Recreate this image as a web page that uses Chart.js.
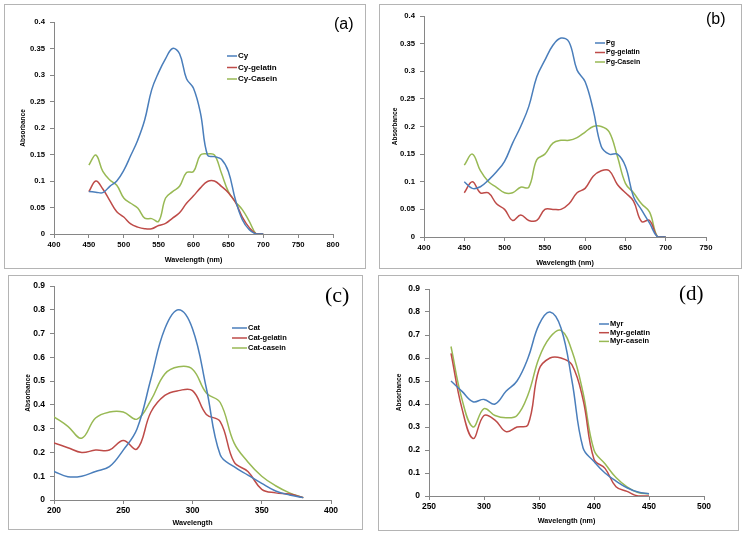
<!DOCTYPE html>
<html>
<head>
<meta charset="utf-8">
<script src="https://cdn.jsdelivr.net/npm/chart.js@4.4.1/dist/chart.umd.min.js"></script>
<style>
  body { margin: 0; background: #fff; width: 743px; height: 536px; position: relative; overflow: hidden; }
  .box { position: absolute; border: 1px solid #b4b4b4; box-sizing: border-box; }
  canvas { position: absolute; }
  .tag { position: absolute; color: #000; line-height: 1; }
</style>
</head>
<body>

<div class="box" style="left:4px;top:4px;width:362px;height:265px"></div>
<div class="box" style="left:379px;top:4px;width:363px;height:265px"></div>
<div class="box" style="left:8px;top:275px;width:355px;height:255px"></div>
<div class="box" style="left:378px;top:275px;width:361px;height:256px"></div>

<canvas id="chartA"></canvas>
<canvas id="chartB"></canvas>
<canvas id="chartC"></canvas>
<canvas id="chartD"></canvas>

<div class="tag" style="left:334px;top:15px;font:16px 'Liberation Sans',Arial,sans-serif">(a)</div>
<div class="tag" style="left:706px;top:10px;font:16px 'Liberation Sans',Arial,sans-serif">(b)</div>
<div class="tag" style="left:325px;top:282px;font:22px 'Liberation Serif','Times New Roman',serif">(c)</div>
<div class="tag" style="left:679px;top:281px;font:21px 'Liberation Serif','Times New Roman',serif">(d)</div>

<script>
// (a) Cy
const waveA = [450, 460, 470, 480, 490, 500, 510, 520, 530, 540, 550, 560, 570, 580, 590, 600, 610, 620, 630, 640, 650, 660, 670, 680, 690, 700];
const cy        = [0.08, 0.079, 0.078, 0.09, 0.1, 0.12, 0.148, 0.177, 0.215, 0.272, 0.305, 0.331, 0.35, 0.34, 0.293, 0.275, 0.228, 0.149, 0.146, 0.141, 0.118, 0.065, 0.027, 0.008, 0, 0];
const cyGelatin = [0.08, 0.1, 0.085, 0.063, 0.042, 0.032, 0.019, 0.013, 0.01, 0.01, 0.016, 0.02, 0.03, 0.04, 0.058, 0.072, 0.087, 0.099, 0.1, 0.09, 0.078, 0.06, 0.032, 0.012, 0, 0];
const cyCasein  = [0.13, 0.149, 0.118, 0.102, 0.092, 0.068, 0.058, 0.049, 0.03, 0.029, 0.024, 0.068, 0.08, 0.09, 0.116, 0.118, 0.149, 0.151, 0.149, 0.115, 0.08, 0.061, 0.046, 0.024, 0, 0];

// (b) Pg
const waveB = [450, 460, 470, 480, 490, 500, 510, 520, 530, 540, 550, 560, 570, 580, 590, 600, 610, 620, 630, 640, 650, 660, 670, 680, 690, 700];
const pg        = [0.1, 0.088, 0.091, 0.103, 0.118, 0.137, 0.17, 0.2, 0.236, 0.29, 0.32, 0.347, 0.36, 0.353, 0.302, 0.281, 0.23, 0.164, 0.15, 0.15, 0.128, 0.073, 0.049, 0.025, 0, 0];
const pgGelatin = [0.08, 0.1, 0.08, 0.08, 0.06, 0.05, 0.03, 0.04, 0.03, 0.03, 0.05, 0.05, 0.05, 0.06, 0.08, 0.088, 0.11, 0.12, 0.12, 0.095, 0.08, 0.065, 0.028, 0.03, 0, 0];
const pgCasein  = [0.13, 0.15, 0.12, 0.1, 0.09, 0.08, 0.08, 0.09, 0.09, 0.14, 0.15, 0.17, 0.175, 0.175, 0.18, 0.19, 0.2, 0.2, 0.19, 0.146, 0.097, 0.08, 0.06, 0.045, 0, 0];

// (c) Cat
const waveC = [200, 210, 220, 230, 240, 250, 260, 270, 280, 290, 300, 310, 320, 330, 340, 350, 360, 370, 380];
const cat        = [0.12, 0.098, 0.1, 0.12, 0.14, 0.21, 0.3, 0.51, 0.72, 0.8, 0.72, 0.47, 0.19, 0.14, 0.105, 0.07, 0.038, 0.021, 0.01];
const catGelatin = [0.24, 0.22, 0.2, 0.21, 0.21, 0.25, 0.215, 0.37, 0.44, 0.46, 0.46, 0.36, 0.33, 0.16, 0.12, 0.045, 0.03, 0.025, 0.01];
const catCasein  = [0.35, 0.31, 0.26, 0.345, 0.37, 0.37, 0.34, 0.42, 0.53, 0.56, 0.55, 0.45, 0.41, 0.24, 0.16, 0.1, 0.06, 0.03, 0.01];

// (d) Myr
const waveD = [270, 280, 290, 300, 310, 320, 330, 340, 350, 360, 370, 380, 390, 400, 410, 420, 430, 440, 450];
const myr        = [0.5, 0.455, 0.41, 0.42, 0.4, 0.455, 0.5, 0.6, 0.745, 0.8, 0.73, 0.5, 0.21, 0.15, 0.1, 0.065, 0.036, 0.017, 0.01];
const myrGelatin = [0.62, 0.38, 0.25, 0.35, 0.33, 0.28, 0.3, 0.31, 0.55, 0.6, 0.6, 0.57, 0.42, 0.16, 0.12, 0.04, 0.02, 0, 0];
const myrCasein  = [0.65, 0.42, 0.3, 0.38, 0.35, 0.34, 0.35, 0.44, 0.6, 0.69, 0.72, 0.63, 0.45, 0.2, 0.14, 0.08, 0.04, 0.015, 0.01];

const BLUE = "#4a7ebb";
const RED = "#be4b48";
const GREEN = "#98b954";
const AXIS = "#868686";
const FONT = "'Liberation Sans', Arial, sans-serif";

function pts(xs, ys) {
    return xs.map((x, i) => ({ x: x, y: ys[i] }));
}

// draws the little legend inside the plot
const legendPlugin = {
    id: "innerLegend",
    afterDraw(chart, args, opts) {
        const ctx = chart.ctx;
        ctx.save();
        ctx.font = "bold " + opts.size + "px " + FONT;
        ctx.textBaseline = "middle";
        ctx.fillStyle = "#000";
        chart.data.datasets.forEach((ds, i) => {
            const y = opts.y + i * opts.gap;
            ctx.strokeStyle = ds.borderColor;
            ctx.lineWidth = 1.5;
            ctx.beginPath();
            ctx.moveTo(opts.x, y);
            ctx.lineTo(opts.x + opts.len, y);
            ctx.stroke();
            ctx.fillText(ds.label, opts.x + opts.len + 1, y);
        });
        ctx.restore();
    }
};

function makePanel(id, box, area, p) {
    const canvas = document.getElementById(id);
    canvas.width = box.w;
    canvas.height = box.h;
    canvas.style.left = box.x + "px";
    canvas.style.top = box.y + "px";

    new Chart(canvas, {
        type: "line",
        data: {
            datasets: p.series.map(s => ({
                label: s.label,
                data: pts(p.wave, s.values),
                borderColor: s.color,
                borderWidth: 1.5,
                pointRadius: 0,
                tension: 0.4,
                fill: false
            }))
        },
        plugins: [legendPlugin],
        options: {
            responsive: false,
            animation: false,
            devicePixelRatio: 1,
            layout: {
                padding: { left: 0, top: area.t - box.y, right: box.x + box.w - area.r, bottom: 0 }
            },
            plugins: {
                legend: { display: false },
                tooltip: { enabled: false },
                innerLegend: p.legend
            },
            scales: {
                x: {
                    type: "linear",
                    min: p.xMin,
                    max: p.xMax,
                    ticks: { stepSize: 50, color: "#000", padding: 2, maxRotation: 0, autoSkip: false,
                             font: { family: FONT, size: p.tickSize, weight: "bold" } },
                    grid: { drawOnChartArea: false, tickLength: 4, color: AXIS },
                    border: { color: AXIS },
                    title: { display: true, text: p.xTitle, color: "#000",
                             font: { family: FONT, size: 7.2, weight: "bold" },
                             padding: { top: 0, bottom: p.xTitlePad } },
                    afterFit: s => { s.height = box.y + box.h - area.b; }
                },
                y: {
                    min: 0,
                    max: p.yMax,
                    ticks: { stepSize: p.yStep, color: "#000", padding: 5,
                             font: { family: FONT, size: p.tickSize, weight: "bold" },
                             callback: v => String(+v.toFixed(2)) },
                    grid: { drawOnChartArea: false, tickLength: 4, color: AXIS },
                    border: { color: AXIS },
                    title: { display: true, text: "Absorbance", color: "#000",
                             font: { family: FONT, size: 6.5, weight: "bold" },
                             padding: { top: p.yTitlePad, bottom: 0 } },
                    afterFit: s => { s.width = area.l - box.x; }
                }
            }
        }
    });
}

makePanel("chartA", { x: 4, y: 4, w: 362, h: 265 }, { l: 54, t: 22, r: 333, b: 234 }, {
    wave: waveA, xMin: 400, xMax: 800, yMax: 0.4, yStep: 0.05, tickSize: 7.7,
    xTitle: "Wavelength (nm)", xTitlePad: 5, yTitlePad: 15,
    legend: { x: 223, y: 52, gap: 11.5, len: 10, size: 8 },
    series: [
        { label: "Cy", values: cy, color: BLUE },
        { label: "Cy-gelatin", values: cyGelatin, color: RED },
        { label: "Cy-Casein", values: cyCasein, color: GREEN }
    ]
});

makePanel("chartB", { x: 379, y: 4, w: 363, h: 265 }, { l: 424, t: 16, r: 706, b: 237 }, {
    wave: waveB, xMin: 400, xMax: 750, yMax: 0.4, yStep: 0.05, tickSize: 7.7,
    xTitle: "Wavelength (nm)", xTitlePad: 2, yTitlePad: 12,
    legend: { x: 216, y: 39, gap: 9.5, len: 10, size: 7 },
    series: [
        { label: "Pg", values: pg, color: BLUE },
        { label: "Pg-gelatin", values: pgGelatin, color: RED },
        { label: "Pg-Casein", values: pgCasein, color: GREEN }
    ]
});

makePanel("chartC", { x: 8, y: 275, w: 355, h: 255 }, { l: 54, t: 286, r: 331, b: 500 }, {
    wave: waveC, xMin: 200, xMax: 400, yMax: 0.9, yStep: 0.1, tickSize: 8.5,
    xTitle: "Wavelength", xTitlePad: 3, yTitlePad: 16,
    legend: { x: 224, y: 53, gap: 10, len: 15, size: 7.5 },
    series: [
        { label: "Cat", values: cat, color: BLUE },
        { label: "Cat-gelatin", values: catGelatin, color: RED },
        { label: "Cat-casein", values: catCasein, color: GREEN }
    ]
});

makePanel("chartD", { x: 378, y: 275, w: 361, h: 256 }, { l: 429, t: 289, r: 704, b: 496 }, {
    wave: waveD, xMin: 250, xMax: 500, yMax: 0.9, yStep: 0.1, tickSize: 8.5,
    xTitle: "Wavelength (nm)", xTitlePad: 6, yTitlePad: 17,
    legend: { x: 221, y: 49, gap: 8.7, len: 10, size: 7.5 },
    series: [
        { label: "Myr", values: myr, color: BLUE },
        { label: "Myr-gelatin", values: myrGelatin, color: RED },
        { label: "Myr-casein", values: myrCasein, color: GREEN }
    ]
});
</script>
</body>
</html>
